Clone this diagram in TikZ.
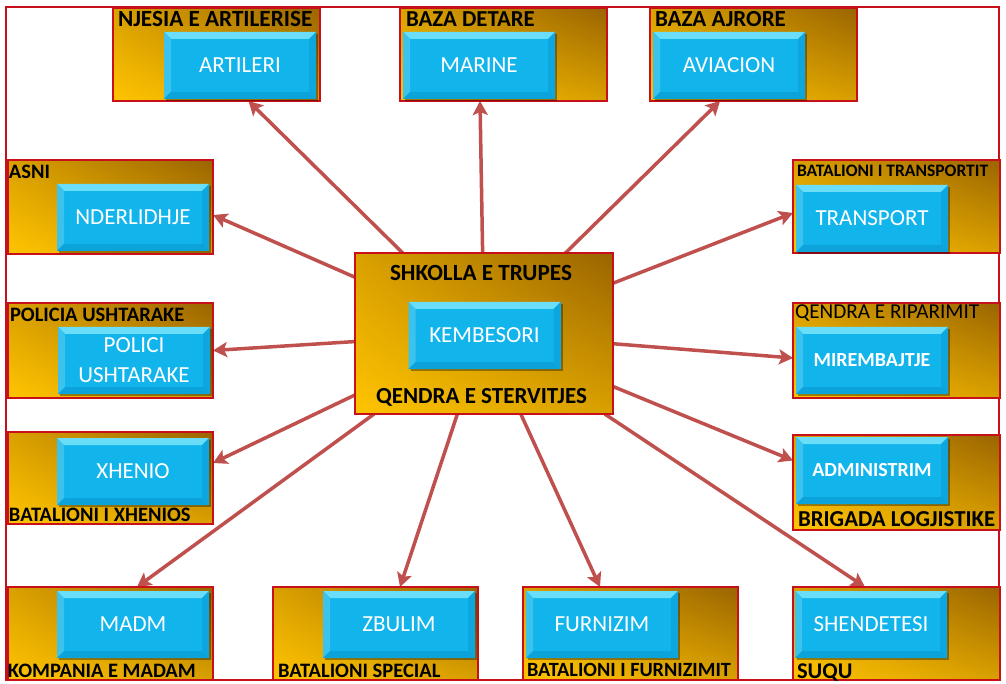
\documentclass[tikz,border=0pt]{standalone}
\usepackage{fontspec}
\setmainfont{Carlito}
\usetikzlibrary{arrows.meta,shadings,shadows,backgrounds}
\definecolor{boxred}{HTML}{C8101A}
\definecolor{arrowred}{HTML}{C0504D}
\definecolor{goldlo}{HTML}{FFC400}
\definecolor{goldmid}{HTML}{D9A000}
\definecolor{goldhi}{HTML}{9A6400}
\definecolor{cyanmid}{HTML}{12B4EC}
\definecolor{cyantop}{HTML}{6ADDF8}
\definecolor{cyanleft}{HTML}{3BC3EE}
\definecolor{cyanright}{HTML}{0EA6DE}
\definecolor{cyanbot}{HTML}{0CA2DA}

\begin{document}
\begin{tikzpicture}[x=1pt,y=-1pt,
  unit/.style={draw=boxred, line width=1.8pt, inner sep=0pt, outer sep=0pt,
    lower left=goldlo, upper right=goldhi, upper left=goldmid, lower right=goldmid},
  chip/.style={inner sep=0pt, outer sep=0pt, minimum width=152pt, minimum height=67pt,
    fill=cyanmid, text=white, align=center, font=\fontsize{23}{30}\selectfont,
    drop shadow={shadow xshift=2pt, shadow yshift=-2pt, opacity=.35, fill=black},
    path picture={
      \fill[cyantop] (path picture bounding box.north west) -- (path picture bounding box.north east)
        -- ([xshift=-7pt,yshift=-7pt]path picture bounding box.north east)
        -- ([xshift=7pt,yshift=-7pt]path picture bounding box.north west) -- cycle;
      \fill[cyanleft] (path picture bounding box.north west)
        -- ([xshift=7pt,yshift=-7pt]path picture bounding box.north west)
        -- ([xshift=7pt,yshift=7pt]path picture bounding box.south west)
        -- (path picture bounding box.south west) -- cycle;
      \fill[cyanright] (path picture bounding box.north east)
        -- ([xshift=-7pt,yshift=-7pt]path picture bounding box.north east)
        -- ([xshift=-7pt,yshift=7pt]path picture bounding box.south east)
        -- (path picture bounding box.south east) -- cycle;
      \fill[cyanbot] (path picture bounding box.south west)
        -- ([xshift=7pt,yshift=7pt]path picture bounding box.south west)
        -- ([xshift=-7pt,yshift=7pt]path picture bounding box.south east)
        -- (path picture bounding box.south east) -- cycle;
    }},
  boldchip/.style={chip, font=\bfseries\fontsize{20}{24}\selectfont},
  tag/.style={inner sep=0pt, outer sep=0pt, anchor=base west, text=black,
    font=\bfseries\fontsize{#1}{#1}\selectfont},
  plaintag/.style={inner sep=0pt, outer sep=0pt, anchor=base west, text=black,
    font=\fontsize{#1}{#1}\selectfont},
  link/.style={draw=arrowred, line width=3.5pt,
    -{Stealth[length=14pt, width=15pt, inset=3pt]}}
]
\useasboundingbox (0,0) rectangle (1006,684);

% unit frames
\node[unit, minimum width=207pt, minimum height=93pt] (art) at (216.5,54.5) {};
\node[unit, minimum width=207pt, minimum height=93pt] (mar) at (503.5,54.5) {};
\node[unit, minimum width=207pt, minimum height=93pt] (avi) at (753.5,54.5) {};
\node[unit, minimum width=205pt, minimum height=94pt] (nde) at (110.5,207) {};
\node[unit, minimum width=205pt, minimum height=95pt] (pol) at (110.5,350.5) {};
\node[unit, minimum width=205pt, minimum height=92pt] (xhe) at (110.5,478) {};
\node[unit, minimum width=205pt, minimum height=93pt] (mad) at (110.5,633.5) {};
\node[unit, minimum width=205pt, minimum height=93pt] (zbu) at (375.5,633.5) {};
\node[unit, minimum width=215pt, minimum height=93pt] (fur) at (630.5,633.5) {};
\node[unit, minimum width=207pt, minimum height=93pt] (she) at (896.5,633.5) {};
\node[unit, minimum width=207pt, minimum height=93pt] (tra) at (896.5,206.5) {};
\node[unit, minimum width=207pt, minimum height=95pt] (mir) at (896.5,350.5) {};
\node[unit, minimum width=207pt, minimum height=95pt] (adm) at (896.5,482.5) {};
\node[unit, minimum width=258pt, minimum height=161pt] (ctr) at (484,333.5) {};

% unit titles
\node[tag=23.2] (artT) at (118,27) {NJESIA E ARTILERISE};
\node[tag=22.8] (marT) at (406,27) {BAZA DETARE};
\node[tag=23] (aviT) at (655,27) {BAZA AJRORE};
\node[tag=20.5] (ndeT) at (9,179) {ASNI};
\node[tag=20.5] (polT) at (10,322) {POLICIA USHTARAKE};
\node[tag=20.5] (xheT) at (9,521) {BATALIONI I XHENIOS};
\node[tag=20.5] (madT) at (8,677) {KOMPANIA E MADAM};
\node[tag=20.5] (zbuT) at (278,677) {BATALIONI SPECIAL};
\node[tag=20.2] (furT) at (527,676) {BATALIONI I FURNIZIMIT};
\node[tag=22.5] (sheT) at (797,678) {SUQU};
\node[tag=17.5] (traT) at (797,177) {BATALIONI I TRANSPORTIT};
\node[plaintag=21.2] (mirT) at (795,319) {QENDRA E RIPARIMIT};
\node[tag=22.8] (admT) at (798,526) {BRIGADA LOGJISTIKE};
\node[tag=23.2, anchor=base] (ctrT) at (481,281) {SHKOLLA E TRUPES};
\node[tag=23, anchor=base] (ctrB) at (481.5,403) {QENDRA E STERVITJES};

% service chips
\node[chip] (artC) at (240,65.5) {ARTILERI};
\node[chip] (marC) at (479,65.5) {MARINE};
\node[chip] (aviC) at (729,65.5) {AVIACION};
\node[chip] (ndeC) at (133,217.5) {NDERLIDHJE};
\node[chip] (polC) at (134,360.5) {POLICI\\USHTARAKE};
\node[chip] (xheC) at (133,471.5) {XHENIO};
\node[chip] (madC) at (133,624.5) {MADM};
\node[chip] (zbuC) at (399,624.5) {ZBULIM};
\node[chip] (furC) at (602,624.5) {FURNIZIM};
\node[chip] (sheC) at (871,624.5) {SHENDETESI};
\node[chip] (traC) at (872,218.5) {TRANSPORT};
\node[boldchip] (mirC) at (872,360.5) {MIREMBAJTJE};
\node[boldchip] (admC) at (872,470.5) {ADMINISTRIM};
\node[chip] (ctrC) at (484.5,335.5) {KEMBESORI};

\begin{scope}[on background layer]
  \fill[white] (0,0) rectangle (1006,684);
  \draw[boxred, line width=1.5pt] (6,7) rectangle (999,680);
  % links from the training centre
  \draw[link] (ctr) -- ([xshift=32pt]art.south);
  \draw[link] (ctr) -- ([xshift=-23.5pt]mar.south);
  \draw[link] (ctr) -- ([xshift=-33.5pt]avi.south);
  \draw[link] (ctr) -- ([yshift=-8pt]nde.east);
  \draw[link] (ctr) -- (pol.east);
  \draw[link] (ctr) -- ([yshift=15pt]xhe.east);
  \draw[link] (ctr) -- ([xshift=26.5pt]mad.north);
  \draw[link] (ctr) -- ([xshift=24.5pt]zbu.north);
  \draw[link] (ctr) -- ([xshift=-30.5pt]fur.north);
  \draw[link] (ctr) -- ([xshift=-31.5pt]she.north);
  \draw[link] (ctr) -- ([yshift=-6.5pt]tra.west);
  \draw[link] (ctr) -- ([yshift=-7.5pt]mir.west);
  \draw[link] (ctr) -- ([yshift=22pt]adm.west);
\end{scope}
\end{tikzpicture}
\end{document}
